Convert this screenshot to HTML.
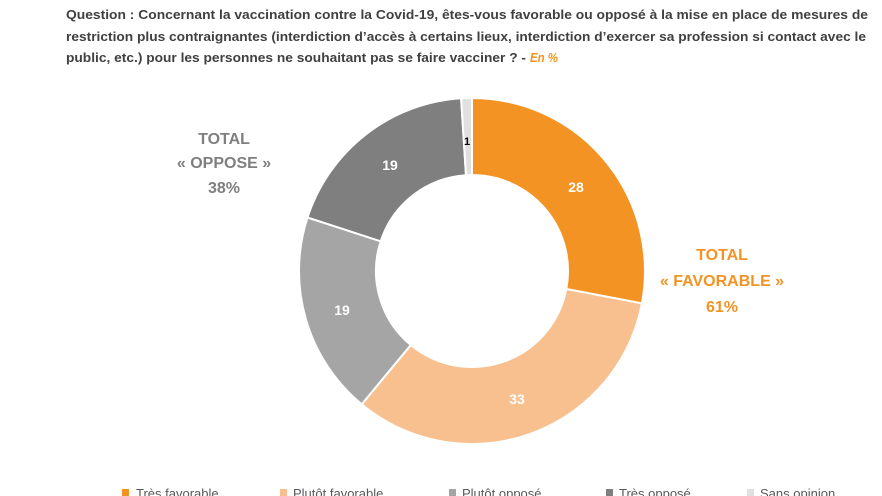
<!DOCTYPE html>
<html><head><meta charset="utf-8"><style>
html,body{margin:0;padding:0;background:#fff;width:882px;height:496px;overflow:hidden}
svg text{font-family:"Liberation Sans",sans-serif}
</style></head><body>
<svg width="882" height="496" viewBox="0 0 882 496" xmlns="http://www.w3.org/2000/svg">
<g font-size="13" font-weight="bold" fill="#404040">
<text x="66" y="19" textLength="802" lengthAdjust="spacingAndGlyphs">Question : Concernant la vaccination contre la Covid-19, êtes-vous favorable ou opposé à la mise en place de mesures de</text>
<text x="66" y="41" textLength="800" lengthAdjust="spacingAndGlyphs">restriction plus contraignantes (interdiction d’accès à certains lieux, interdiction d’exercer sa profession si contact avec le</text>
<text x="66" y="62" textLength="460" lengthAdjust="spacingAndGlyphs">public, etc.) pour les personnes ne souhaitant pas se faire vacciner ? -</text>
<text x="530" y="62" fill="#F39324" font-style="italic" textLength="28" lengthAdjust="spacingAndGlyphs">En %</text>
</g>
<g stroke="#fff" stroke-width="2">
<path d="M472,98 A173,173 0 0 1 641.9,303.4 L566.3,289 A96,96 0 0 0 472,175 Z" fill="#F39324"/>
<path d="M641.9,303.4 A173,173 0 0 1 361.7,404.3 L410.8,345 A96,96 0 0 0 566.3,289 Z" fill="#F8C08E"/>
<path d="M361.7,404.3 A173,173 0 0 1 307.5,217.5 L380.7,241.3 A96,96 0 0 0 410.8,345 Z" fill="#A5A5A5"/>
<path d="M307.5,217.5 A173,173 0 0 1 461.1,98.3 L466,175.2 A96,96 0 0 0 380.7,241.3 Z" fill="#7F7F7F"/>
<path d="M461.1,98.3 A173,173 0 0 1 472,98 L472,175 A96,96 0 0 0 466,175.2 Z" fill="#E0E0E0"/>
</g>
<g font-size="14" font-weight="bold" fill="#fff" text-anchor="middle">
<text x="576" y="192">28</text>
<text x="517" y="404">33</text>
<text x="342" y="315">19</text>
<text x="390" y="170">19</text>
<text x="467" y="145" fill="#000" font-size="11">1</text>
</g>
<g font-size="16" font-weight="bold" text-anchor="middle" fill="#7F7F7F">
<text x="224" y="144">TOTAL</text>
<text x="224" y="168">« OPPOSE »</text>
<text x="224" y="193">38%</text>
</g>
<g font-size="16" font-weight="bold" text-anchor="middle" fill="#F39324">
<text x="722" y="260">TOTAL</text>
<text x="722" y="286">« FAVORABLE »</text>
<text x="722" y="312">61%</text>
</g>
<g font-size="13" fill="#595959">
<rect x="122" y="489" width="7" height="7" fill="#F39324"/><text x="136" y="498">Très favorable</text>
<rect x="280" y="489" width="7" height="7" fill="#F8C08E"/><text x="293" y="498">Plutôt favorable</text>
<rect x="449" y="489" width="7" height="7" fill="#A5A5A5"/><text x="462" y="498">Plutôt opposé</text>
<rect x="606" y="489" width="7" height="7" fill="#7F7F7F"/><text x="619" y="498">Très opposé</text>
<rect x="747" y="489" width="7" height="7" fill="#E0E0E0"/><text x="760" y="498">Sans opinion</text>
</g>
</svg>
</body></html>
